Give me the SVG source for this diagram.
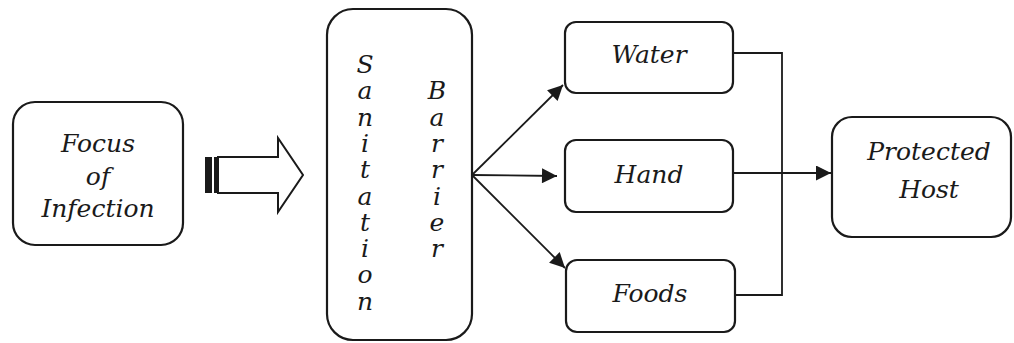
<svg xmlns="http://www.w3.org/2000/svg" width="1014" height="343" viewBox="0 0 1014 343">
  <style>
    .box { fill: #fff; stroke: #1a1a1a; stroke-width: 2.2; }
    .lbl { font-family: "DejaVu Serif", "Liberation Serif", serif; font-style: italic; font-size: 25px; fill: #1a1a1a; text-anchor: middle; }
    .vert { font-family: "DejaVu Serif", "Liberation Serif", serif; font-style: italic; font-size: 25px; fill: #1a1a1a; text-anchor: middle; }
    .conn { fill: none; stroke: #1a1a1a; stroke-width: 1.8; }
  </style>
  <defs>
    <marker id="headBig" viewBox="0 0 10 10" refX="10" refY="5" markerWidth="18" markerHeight="15" markerUnits="userSpaceOnUse" orient="auto">
      <path d="M0,0 L10,5 L0,10 z" fill="#1a1a1a"/>
    </marker>
  </defs>
  <rect width="1014" height="343" fill="#fff"/>

  <!-- source -->
  <g id="focus">
    <rect class="box" x="13" y="102" width="170" height="143" rx="22"/>
    <text class="lbl" x="98" y="152">Focus</text>
    <text class="lbl" x="98" y="185">of</text>
    <text class="lbl" x="98" y="217">Infection</text>
  </g>

  <!-- hollow block arrow with striped tail -->
  <g id="block-arrow">
    <path d="M218,157 L278,157 L278,138 L303,175 L278,212 L278,193 L218,193 Z" fill="#fff" stroke="#1a1a1a" stroke-width="2"/>
    <rect x="205" y="157" width="7" height="36" fill="#1a1a1a"/>
    <rect x="214" y="157" width="4.5" height="36" fill="#1a1a1a"/>
  </g>

  <!-- barrier: two words set vertically, one letter per line -->
  <g id="sanitation-barrier">
    <rect class="box" x="327" y="9" width="145" height="331" rx="26"/>
    <text class="vert" y="73"><tspan x="365">S</tspan><tspan x="365" dy="26.3">a</tspan><tspan x="365" dy="26.3">n</tspan><tspan x="365" dy="26.3">i</tspan><tspan x="365" dy="26.3">t</tspan><tspan x="365" dy="26.3">a</tspan><tspan x="365" dy="26.3">t</tspan><tspan x="365" dy="26.3">i</tspan><tspan x="365" dy="26.3">o</tspan><tspan x="365" dy="26.3">n</tspan></text>
    <text class="vert" y="99.3"><tspan x="437">B</tspan><tspan x="437" dy="26.3">a</tspan><tspan x="437" dy="26.3">r</tspan><tspan x="437" dy="26.3">r</tspan><tspan x="437" dy="26.3">i</tspan><tspan x="437" dy="26.3">e</tspan><tspan x="437" dy="26.3">r</tspan></text>
  </g>

  <!-- transmission routes -->
  <g id="water">
    <rect class="box" x="565" y="22" width="168" height="71" rx="11"/>
    <text class="lbl" x="649" y="63">Water</text>
  </g>
  <g id="hand">
    <rect class="box" x="565" y="140" width="168" height="72" rx="11"/>
    <text class="lbl" x="649" y="183">Hand</text>
  </g>
  <g id="foods">
    <rect class="box" x="566" y="260" width="169" height="72" rx="11"/>
    <text class="lbl" x="650" y="302">Foods</text>
  </g>

  <!-- target -->
  <g id="protected-host">
    <rect class="box" x="832" y="117" width="179" height="120" rx="20"/>
    <text class="lbl" x="929" y="160">Protected</text>
    <text class="lbl" x="929" y="198">Host</text>
  </g>

  <!-- connectors -->
  <g id="connectors">
    <line class="conn" x1="472" y1="175" x2="563" y2="85" marker-end="url(#headBig)"/>
    <line class="conn" x1="472" y1="175" x2="557" y2="176" marker-end="url(#headBig)"/>
    <line class="conn" x1="472" y1="175" x2="565" y2="268" marker-end="url(#headBig)"/>
    <polyline class="conn" points="733,53 782,53 782,295 735,295"/>
    <line class="conn" x1="733" y1="173" x2="831" y2="173" marker-end="url(#headBig)"/>
  </g>
</svg>
